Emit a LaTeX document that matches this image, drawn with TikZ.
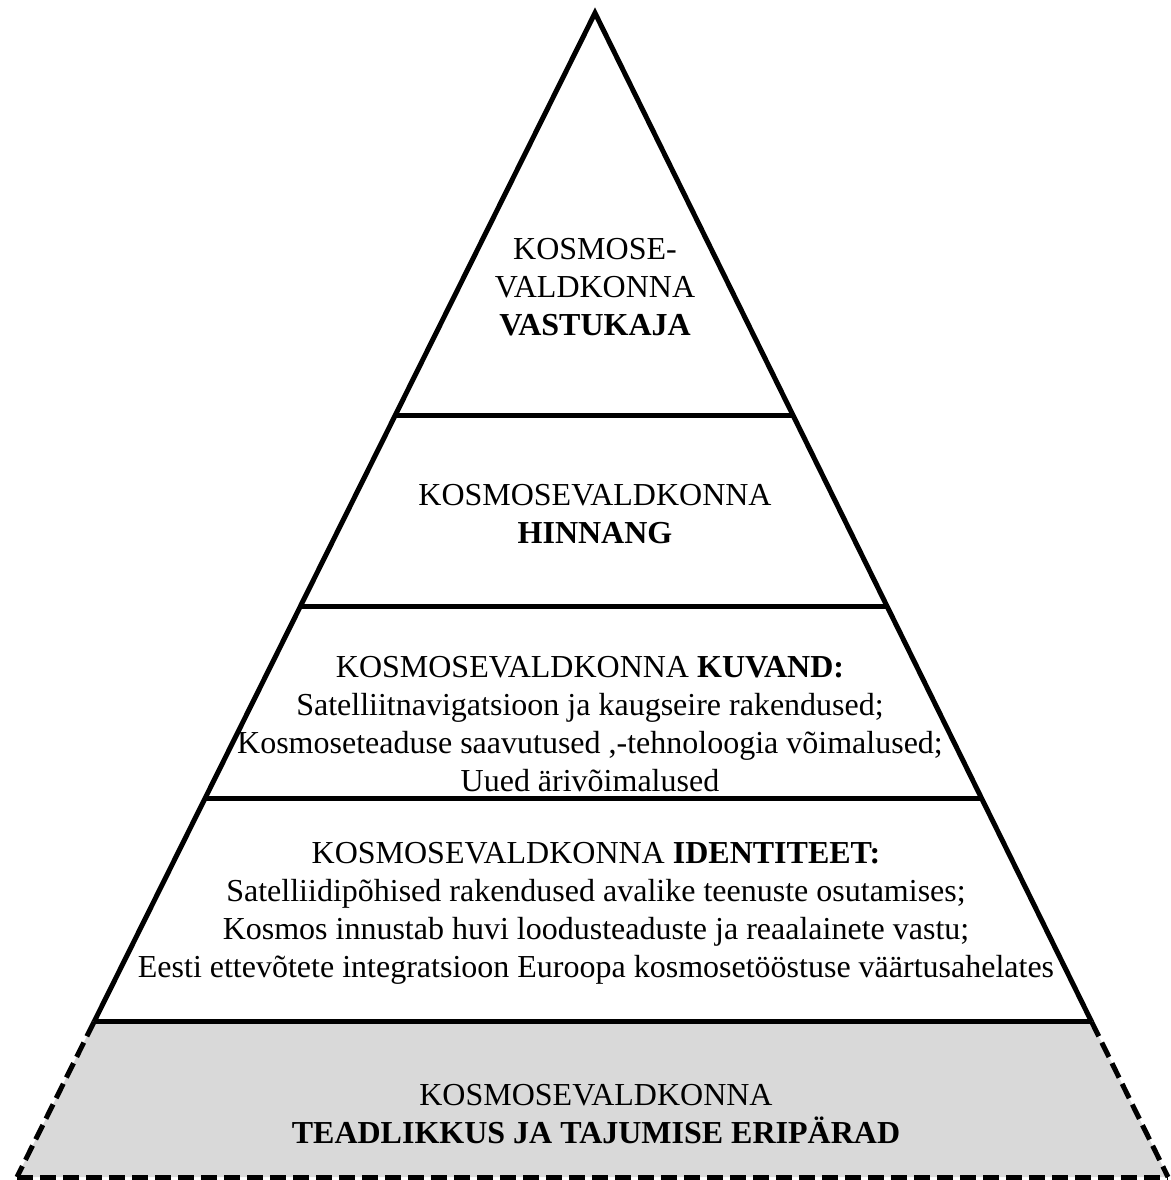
\documentclass[tikz,border=0pt]{standalone}
\usepackage{fontspec}
\setmainfont{Liberation Serif}
\usetikzlibrary{calc}

\begin{document}
\begin{tikzpicture}[x=1pt,y=-1pt,line width=5pt]
\tikzset{lvltext/.style={align=center,font=\fontsize{32}{38}\selectfont,inner sep=0pt}}
\useasboundingbox (0,0) rectangle (1170,1180);
% corners of the pyramid
\coordinate (apex) at (595,13);
\coordinate (bl) at (17,1177);
\coordinate (br) at (1168,1177);
\coordinate (l1) at ($(apex)!0.3454!(bl)$);
\coordinate (r1) at ($(apex)!0.3454!(br)$);
\coordinate (l2) at ($(apex)!0.5103!(bl)$);
\coordinate (r2) at ($(apex)!0.5103!(br)$);
\coordinate (l3) at ($(apex)!0.6744!(bl)$);
\coordinate (r3) at ($(apex)!0.6744!(br)$);
\coordinate (l4) at ($(apex)!0.8668!(bl)$);
\coordinate (r4) at ($(apex)!0.8668!(br)$);
% base level
\fill[black!15] (l4) -- (r4) -- (br) -- (bl) -- cycle;
\draw[dash pattern=on 16pt off 7pt] (l4) -- (bl) (r4) -- (br);
\draw[dash pattern=on 16pt off 7pt] (bl) -- (br);
% upper levels
\draw[line join=miter] (l4) -- (apex) -- (r4);
\draw (l1) -- (r1) (l2) -- (r2) (l3) -- (r3) (l4) -- (r4);
% texts
\node[lvltext] (vastukaja) at (595,287) {KOSMOSE-\\VALDKONNA\\\textbf{VASTUKAJA}};
\node[lvltext] (hinnang) at (595,514) {KOSMOSEVALDKONNA\\\textbf{HINNANG}};
\node[lvltext] (kuvand) at (590,724) {KOSMOSEVALDKONNA \textbf{KUVAND:}\\Satelliitnavigatsioon ja kaugseire rakendused;\\Kosmoseteaduse saavutused ,-tehnoloogia võimalused;\\Uued ärivõimalused};
\node[lvltext] (identiteet) at (596,913) {KOSMOSEVALDKONNA \textbf{IDENTITEET:}\\Satelliidipõhised rakendused avalike teenuste osutamises;\\Kosmos innustab huvi loodusteaduste ja reaalainete vastu;\\Eesti ettevõtete integratsioon Euroopa kosmosetööstuse väärtusahelates};
\node[lvltext] (teadlikkus) at (596,1114) {KOSMOSEVALDKONNA\\\textbf{TEADLIKKUS JA TAJUMISE ERIPÄRAD}};
\end{tikzpicture}
\end{document}
